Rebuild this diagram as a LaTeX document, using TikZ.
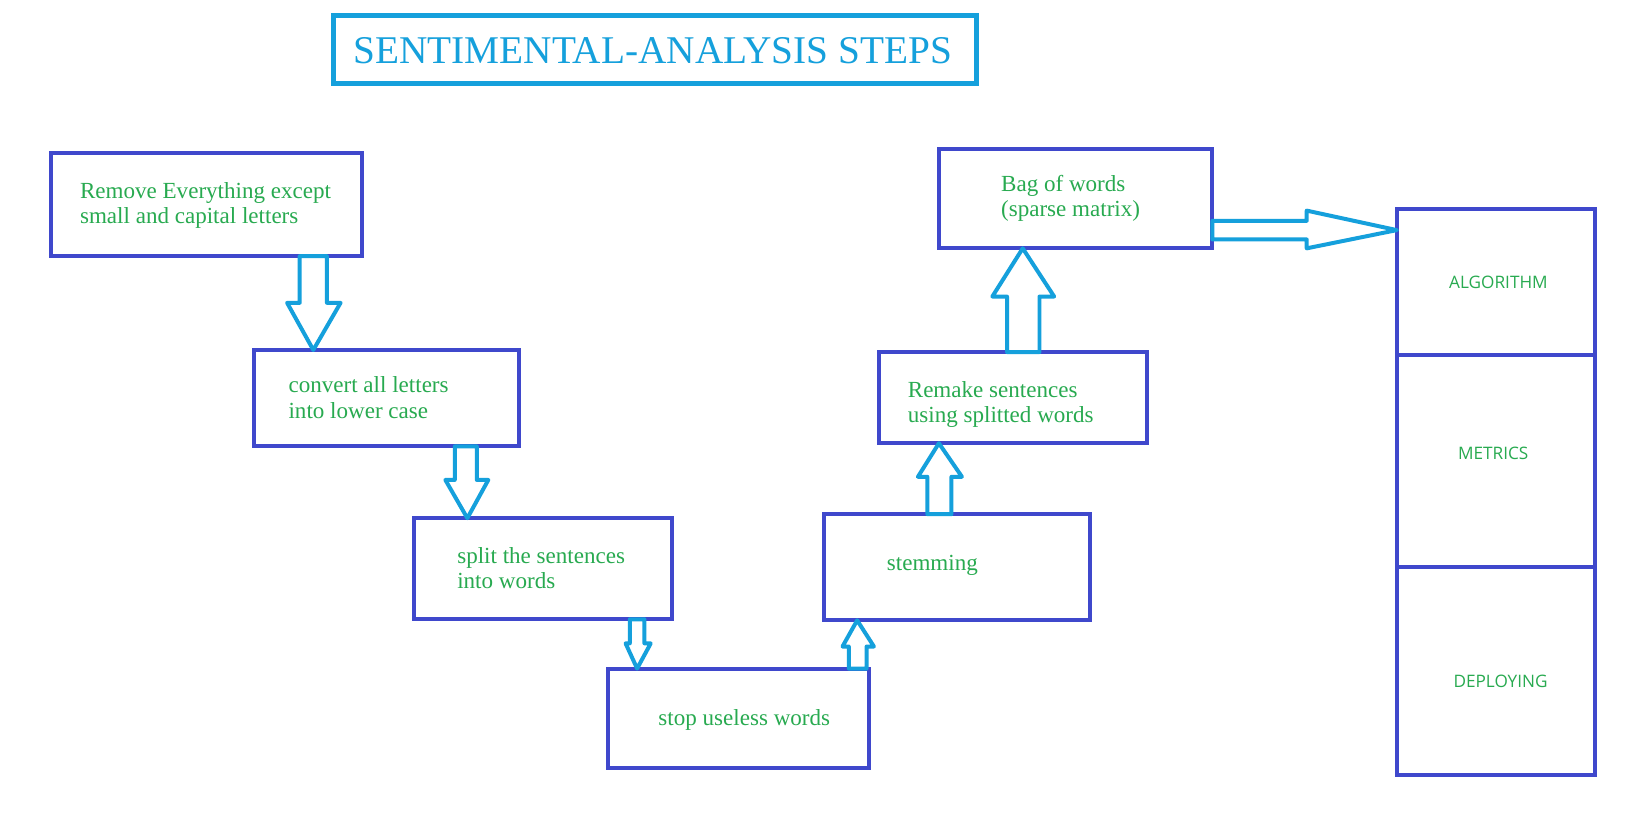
\documentclass[tikz,border=0pt]{standalone}
\usepackage{fontspec}
\setmainfont{Liberation Serif}
\newfontfamily\colfont{Open Sans}
\usetikzlibrary{fit}
\definecolor{boxblue}{RGB}{63,72,204}
\definecolor{arrcyan}{RGB}{21,160,220}
\definecolor{txtgreen}{RGB}{40,170,80}
\begin{document}
\begin{tikzpicture}[x=0.5pt,y=-0.5pt,
  box/.style={draw=boxblue,line width=1.9pt,inner sep=0pt,outer sep=0pt,fit={#1}},
  titlebox/.style={draw=arrcyan,line width=2.4pt,inner sep=0pt,outer sep=0pt,fit={#1}},
  txt/.style={text=txtgreen,inner sep=0pt,align=left,font=\fontsize{11}{12}\selectfont},
  coltxt/.style={text=txtgreen,inner sep=0pt,font=\colfont\fontsize{8.2}{10}\selectfont},
  blk/.style={draw=arrcyan,line width=1.9pt,fill=white,line join=round}]
\useasboundingbox[fill=white] (0,0) rectangle (1567,796);
% title
\node[titlebox={(318,15)(932,80)}] (title) {};
\node[text=arrcyan,inner sep=0pt,font=\fontsize{18.75}{20}\selectfont] (ttext) at (623,48) {SENTIMENTAL-ANALYSIS STEPS};
% boxes
\node[box={(49,146)(345.5,244.5)}] (b1) {};
\node[box={(242.5,334)(495.5,426)}] (b2) {};
\node[box={(395,494.5)(641.5,591)}] (b3) {};
\node[box={(580.5,638)(829,733)}] (b4) {};
\node[box={(786,490.7)(1040,592)}] (b5) {};
\node[box={(839,336)(1095,423)}] (b6) {};
\node[box={(896.5,142.5)(1157,237)}] (b7) {};
\node[box={(1333,199)(1522,339)}] (cA) {};
\node[box={(1333,339)(1522,541)}] (cM) {};
\node[box={(1333,541)(1522,740)}] (cD) {};
% texts (base anchor of a two-line node is the last line's baseline)
\node[txt,anchor=base west] (t1) at (76,213) {Remove Everything except\\small and capital letters};
\node[txt,anchor=base west] (t2) at (275,399) {convert all letters\\into lower case};
\node[txt,anchor=base west] (t3) at (436,562) {split the sentences\\into words};
\node[txt,anchor=base west] (t4) at (628,692) {stop useless words};
\node[txt,anchor=base west] (t5) at (846,544) {stemming};
\node[txt,anchor=base west] (t6) at (866,403) {Remake sentences\\using splitted words};
\node[txt,anchor=base west] (t7) at (955,207) {Bag of words\\(sparse matrix)};
\node[coltxt] (tA) at (1430,269) {ALGORITHM};
\node[coltxt] (tM) at (1425,433) {METRICS};
\node[coltxt] (tD) at (1432,650) {DEPLOYING};
% block arrows
\draw[blk] (286,0 |- b1.south) -- (286,289) -- (274,289) -- (299,0 |- b2.north) -- (325,289) -- (312,289) -- (312,0 |- b1.south) -- cycle;
\draw[blk] (434,0 |- b2.south) -- (434,458) -- (425,458) -- (446,0 |- b3.north) -- (466,458) -- (455,458) -- (455,0 |- b2.south) -- cycle;
\draw[blk] (601,0 |- b3.south) -- (601,614) -- (597,614) -- (608,0 |- b4.north) -- (621,614) -- (615,614) -- (615,0 |- b3.south) -- cycle;
\draw[blk] (810,0 |- b4.north) -- (810,617) -- (804,617) -- (818,0 |- b5.south) -- (834,617) -- (827,617) -- (827,0 |- b4.north) -- cycle;
\draw[blk] (885,0 |- b5.north) -- (885,455) -- (876,455) -- (896,0 |- b6.south) -- (918,455) -- (908,455) -- (908,0 |- b5.north) -- cycle;
\draw[blk] (961,0 |- b6.north) -- (961,283) -- (947,283) -- (976,0 |- b7.south) -- (1006,283) -- (992,283) -- (992,0 |- b6.north) -- cycle;
\draw[blk] (b7.east |- 0,210.7) -- (1247,210.7) -- (1247,201) -- (cA.west |- 0,219.6) -- (1247,237) -- (1247,228.5) -- (b7.east |- 0,228.5) -- cycle;
\end{tikzpicture}
\end{document}
